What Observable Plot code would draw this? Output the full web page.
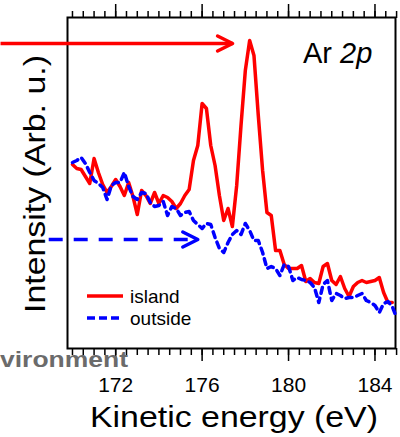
<!DOCTYPE html>
<html>
<head>
<meta charset="utf-8">
<script src="https://cdn.jsdelivr.net/npm/d3@7"></script>
<script src="https://cdn.jsdelivr.net/npm/@observablehq/plot@0.6"></script>
<style>
  html, body { margin: 0; padding: 0; background: #fff; }
</style>
</head>
<body>
<div id="chart"></div>
<script>
// Ar 2p spectra: kinetic energy grid (eV) and intensities (arb. u.)
const energy = [
  170.0, 170.2, 170.4, 170.6, 170.8, 171.0, 171.2, 171.4, 171.6, 171.8,
  172.0, 172.2, 172.4, 172.6, 172.8, 173.0, 173.2, 173.4, 173.6, 173.8,
  174.0, 174.2, 174.4, 174.6, 174.8, 175.0, 175.2, 175.4, 175.6, 175.8,
  176.0, 176.2, 176.4, 176.6, 176.8, 177.0, 177.2, 177.4, 177.6, 177.8,
  178.0, 178.2, 178.4, 178.6, 178.8, 179.0, 179.2, 179.4, 179.6, 179.8,
  180.0, 180.2, 180.4, 180.6, 180.8, 181.0, 181.2, 181.4, 181.6, 181.8,
  182.0, 182.2, 182.4, 182.6, 182.8, 183.0, 183.2, 183.4, 183.6, 183.8,
  184.0, 184.2, 184.4, 184.6, 184.8, 185.0
];

const island = [
  184, 180, 179, 172, 165, 190, 176, 164, 156, 162,
  169, 162, 153, 166, 152, 134, 158, 153, 145, 156,
  145, 153, 151, 147, 140, 145, 153, 159, 188, 203,
  245, 240, 203, 183, 153, 128, 140, 122, 163, 223,
  278, 308, 293, 233, 178, 136, 133, 98, 98, 84,
  80, 80, 80, 83, 67, 70, 66, 65, 82, 85,
  68, 64, 72, 60, 52, 62, 66, 68, 66, 67,
  68, 71, 56, 46, 46
];

const outside = [
  186, 188, 191, 185, 176, 168, 165, 161, 149, 163,
  166, 166, 176, 162, 152, 149, 156, 155, 146, 142,
  143, 147, 133, 142, 140, 133, 136, 137, 128, 124,
  120, 125, 124, 111, 100, 96, 106, 114, 118, 114,
  125, 118, 108, 108, 96, 80, 82, 80, 73, 84,
  82, 68, 71, 69, 68, 66, 61, 46, 64, 68,
  48, 55, 53, 50, 51, 51, 53, 55, 48, 46,
  43, 36, 45, 47, 42, 31
];

const seriesNames = ["island", "outside"];
const seriesColors = ["#ff0000", "#0000ff"];

const xTickLabels = [172, 176, 180, 184];
const xMinorTicks = d3.range(170, 185.01, 0.5);

// Horizontal pointers: start energy, end energy, intensity level
const pointerStart = [166.67, 168.9];
const pointerEnd = [177.41, 175.8];
const pointerLevel = [305, 109];

const islandData = island.map((v, i) => ({energy: energy[i], intensity: v}));
const outsideData = outside.map((v, i) => ({energy: energy[i], intensity: v}));
const pointers = pointerStart.map((s, i) => ({
  x1: s, x2: pointerEnd[i], y: pointerLevel[i], series: seriesNames[i]
}));
const islandPointer = pointers.filter(d => d.series === "island");
const outsidePointer = pointers.filter(d => d.series === "outside");

const font = "'Liberation Sans', Arial, Helvetica, sans-serif";

// Open chevron head, drawn pointing up and rotated into place
const chevron = {
  draw(context, l) {
    context.moveTo(-7.5, -l + 15);
    context.lineTo(0, -l);
    context.lineTo(7.5, -l + 15);
  }
};

const chart = Plot.plot({
  width: 400,
  height: 437,
  marginTop: 17,
  marginBottom: 89,
  marginLeft: 67,
  marginRight: 5,
  style: {fontFamily: font, background: "#fff", color: "#000"},
  x: {domain: [169.77, 184.95]},
  y: {domain: [0, 331], axis: null},
  marks: [
    Plot.axisX({anchor: "bottom", ticks: xMinorTicks, tickSize: 7, tickFormat: () => "", label: null, strokeWidth: 1.5}),
    Plot.axisX({anchor: "top", ticks: xMinorTicks, tickSize: 7, tickFormat: () => "", label: null, strokeWidth: 1.5}),
    Plot.axisX({anchor: "bottom", ticks: xTickLabels, tickSize: 13, tickPadding: 16, fontSize: 21, label: null, strokeWidth: 1.5}),
    Plot.axisX({anchor: "top", ticks: xTickLabels, tickSize: 14, tickFormat: () => "", label: null, strokeWidth: 1.5}),
    Plot.frame({stroke: "#000", strokeWidth: 2}),
    Plot.line(islandData, {x: "energy", y: "intensity", stroke: seriesColors[0], strokeWidth: 3.5, strokeLinejoin: "round"}),
    Plot.line(outsideData, {x: "energy", y: "intensity", stroke: seriesColors[1], strokeWidth: 3.5, strokeDasharray: "6,5"}),
    Plot.link(islandPointer, {
      x1: "x1", x2: "x2", y1: "y", y2: "y",
      stroke: seriesColors[0], strokeWidth: 3.5
    }),
    Plot.link(outsidePointer, {
      x1: "x1", x2: "x2", y1: "y", y2: "y",
      stroke: seriesColors[1], strokeWidth: 3.5, strokeDasharray: "14,11"
    }),
    Plot.vector(pointers, {
      x: "x2", y: "y", rotate: 90, length: 15, anchor: "end", shape: chevron,
      stroke: d => d.series === "island" ? seriesColors[0] : seriesColors[1],
      strokeWidth: 3.5, strokeLinejoin: "round", strokeLinecap: "round"
    })
  ]
});

document.getElementById("chart").appendChild(chart);

const svg = d3.select(chart);

// Axis titles
svg.append("text")
  .attr("x", 90).attr("y", 427)
  .attr("text-anchor", "start")
  .attr("font-family", font).attr("font-size", 29)
  .attr("textLength", 288).attr("lengthAdjust", "spacingAndGlyphs")
  .text("Kinetic energy (eV)");

svg.append("text")
  .attr("transform", "translate(45,313) rotate(-90)")
  .attr("text-anchor", "start")
  .attr("font-family", font).attr("font-size", 30)
  .attr("textLength", 258).attr("lengthAdjust", "spacingAndGlyphs")
  .text("Intensity (Arb. u.)");

// Core level label
const core = svg.append("text")
  .attr("x", 303).attr("y", 63)
  .attr("text-anchor", "start")
  .attr("font-family", font).attr("font-size", 29);
core.append("tspan").text("Ar ");
core.append("tspan").attr("font-style", "italic").text("2p");

// Partially hidden caption at the lower left
svg.append("text")
  .attr("x", 0).attr("y", 367)
  .attr("text-anchor", "start")
  .attr("font-family", font).attr("font-size", 22).attr("font-weight", "bold")
  .attr("fill", "#6b6b6b")
  .attr("textLength", 128).attr("lengthAdjust", "spacingAndGlyphs")
  .text("vironment");

// Legend
const legend = svg.append("g")
  .attr("font-family", font).attr("font-size", 19).attr("text-anchor", "start");
seriesNames.forEach((name, i) => {
  const y = 296 + i * 22;
  legend.append("line")
    .attr("x1", 87).attr("x2", 123).attr("y1", y).attr("y2", y)
    .attr("stroke", seriesColors[i]).attr("stroke-width", 3.5)
    .attr("stroke-dasharray", i === 0 ? null : "8,4");
  legend.append("text")
    .attr("x", 130).attr("y", y + 6.5)
    .text(name);
});
</script>
</body>
</html>
